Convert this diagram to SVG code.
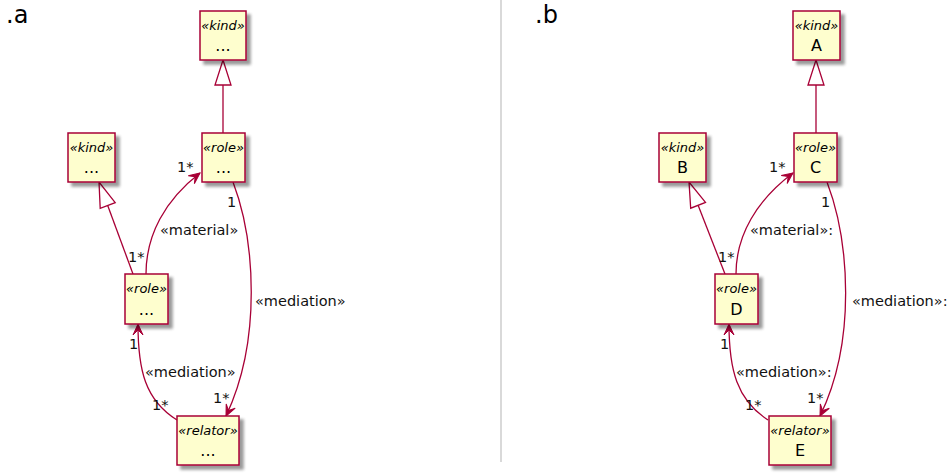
<svg xmlns="http://www.w3.org/2000/svg" width="950" height="473" viewBox="0 0 950 473">
<style>
.box{fill:#FEFECE;stroke:#A80036;stroke-width:1.5;filter:url(#sh)}
.st{font-family:"DejaVu Sans",sans-serif;font-style:italic;font-size:13px;fill:#000;text-anchor:middle}
.nm{font-family:"DejaVu Sans",sans-serif;font-size:16px;fill:#000;text-anchor:middle}
.ln{fill:none;stroke:#A80036;stroke-width:1.3}
.as{fill:none;stroke:#A80036;stroke-width:1.3;marker-end:url(#arr)}
.tri{fill:#fff;stroke:#A80036;stroke-width:1.3}
.lb{font-family:"DejaVu Sans",sans-serif;font-size:14.5px;fill:#111}
.ttl{font-family:"DejaVu Sans",sans-serif;font-size:24px;fill:#000}
</style>
<defs>
<filter id="sh" x="-20%" y="-20%" width="150%" height="150%">
<feGaussianBlur in="SourceAlpha" stdDeviation="1.8"/>
<feOffset dx="4" dy="4" result="o"/>
<feComponentTransfer><feFuncA type="linear" slope="0.4"/></feComponentTransfer>
<feMerge><feMergeNode/><feMergeNode in="SourceGraphic"/></feMerge>
</filter>
<marker id="arr" viewBox="-12 -6 14 12" refX="0" refY="0" markerWidth="14" markerHeight="12" markerUnits="userSpaceOnUse" orient="auto">
<path d="M0,0 L-11,-5 L-6,0 L-11,5 Z" fill="#A80036" stroke="#A80036" stroke-width="1"/>
</marker>
</defs>
<rect width="950" height="473" fill="#fff"/>
<text class="ttl" x="6" y="23">.a</text>
<text class="ttl" x="535" y="23">.b</text>
<line x1="501" y1="0" x2="501" y2="462" stroke="#d9d9d9" stroke-width="2"/>

<g id="connectors">
<!-- panel a -->
<line class="ln" x1="223" y1="133" x2="223" y2="85"/>
<polygon class="tri" points="223,60 215,85 231,85"/>
<line class="ln" x1="133" y1="274" x2="107.7" y2="205.5"/>
<polygon class="tri" points="99,182 100.2,208.3 115.2,202.7"/>
<path class="as" d="M146,274 C146,235 165,200 200,173"/>
<path class="as" d="M233,182 C255,240 262,340 226,416"/>
<path class="as" d="M177,420 C145,400 138,370 138,324"/>
<text class="lb" x="177" y="172">1*</text>
<text class="lb" x="160" y="235">«material»</text>
<text class="lb" x="128" y="262">1*</text>
<text class="lb" x="227" y="207">1</text>
<text class="lb" x="255" y="306">«mediation»</text>
<text class="lb" x="213" y="403">1*</text>
<text class="lb" x="145" y="377">«mediation»</text>
<text class="lb" x="129" y="349">1</text>
<text class="lb" x="152" y="410">1*</text>
<!-- panel b -->
<line class="ln" x1="816" y1="133" x2="816" y2="85"/>
<polygon class="tri" points="816,60 808,85 824,85"/>
<line class="ln" x1="725" y1="274" x2="698.1" y2="205.3"/>
<polygon class="tri" points="689,182 690.7,208.2 705.5,202.4"/>
<path class="as" d="M736,274 C736,235 757,200 793,173"/>
<path class="as" d="M827,182 C849,240 857,340 820,416"/>
<path class="as" d="M768,420 C737,400 729,370 729,324"/>
<text class="lb" x="769" y="172">1*</text>
<text class="lb" x="750" y="235">«material»:</text>
<text class="lb" x="718" y="262">1*</text>
<text class="lb" x="821" y="207">1</text>
<text class="lb" x="852" y="306">«mediation»:</text>
<text class="lb" x="807" y="403">1*</text>
<text class="lb" x="736" y="377">«mediation»:</text>
<text class="lb" x="720" y="349">1</text>
<text class="lb" x="745" y="410">1*</text>
</g>

<g id="a-kind-top"><rect class="box" x="200" y="11" width="46" height="49"/><text class="st" x="223" y="30">«kind»</text><text class="nm" x="223" y="51">...</text></g>
<g id="a-kind-left"><rect class="box" x="68" y="133" width="47" height="49"/><text class="st" x="91.5" y="152">«kind»</text><text class="nm" x="91.5" y="173">...</text></g>
<g id="a-role-top"><rect class="box" x="202" y="133" width="43" height="49"/><text class="st" x="223.5" y="152">«role»</text><text class="nm" x="223.5" y="173">...</text></g>
<g id="a-role-low"><rect class="box" x="125" y="274" width="43" height="50"/><text class="st" x="146.5" y="293">«role»</text><text class="nm" x="146.5" y="315">...</text></g>
<g id="a-relator"><rect class="box" x="177" y="416" width="62" height="49"/><text class="st" x="208" y="435">«relator»</text><text class="nm" x="208" y="456">...</text></g>

<g id="A"><rect class="box" x="793" y="11" width="47" height="49"/><text class="st" x="816.5" y="30">«kind»</text><text class="nm" x="816.5" y="51">A</text></g>
<g id="B"><rect class="box" x="659" y="133" width="47" height="49"/><text class="st" x="682.5" y="152">«kind»</text><text class="nm" x="682.5" y="173">B</text></g>
<g id="C"><rect class="box" x="794" y="133" width="43" height="49"/><text class="st" x="815.5" y="152">«role»</text><text class="nm" x="815.5" y="173">C</text></g>
<g id="D"><rect class="box" x="715" y="274" width="43" height="50"/><text class="st" x="736.5" y="293">«role»</text><text class="nm" x="736.5" y="315">D</text></g>
<g id="E"><rect class="box" x="769" y="416" width="62" height="49"/><text class="st" x="800" y="435">«relator»</text><text class="nm" x="800" y="456">E</text></g>
</svg>
